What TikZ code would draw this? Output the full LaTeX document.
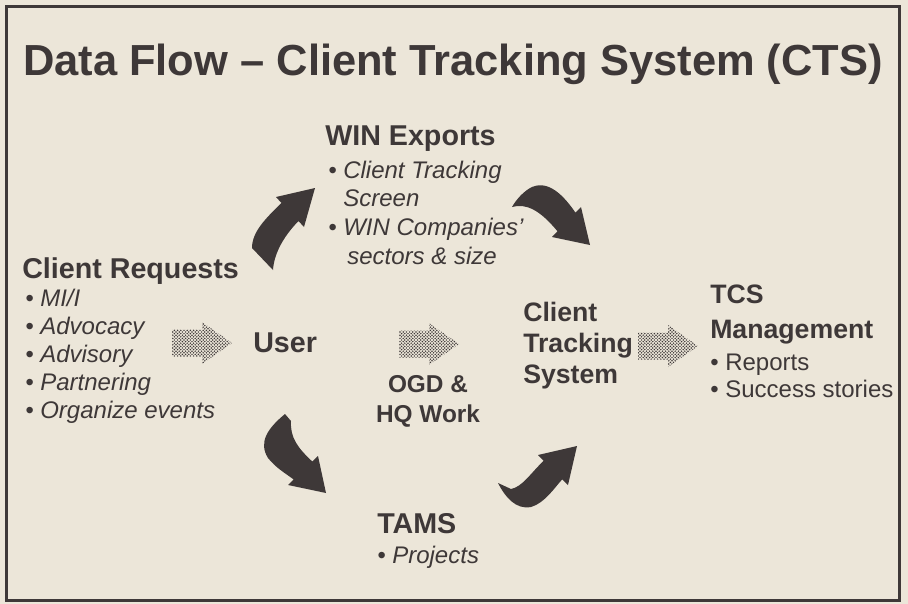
\documentclass[tikz,border=0pt]{standalone}
\usepackage{fontspec}
\setmainfont{Liberation Sans}
\usetikzlibrary{patterns}

\definecolor{paper}{RGB}{236,230,217}
\definecolor{ink}{RGB}{62,56,56}

\pgfdeclarepatternformonly{halftone}{\pgfqpoint{-1pt}{-1pt}}{\pgfqpoint{3.4pt}{3.4pt}}{\pgfqpoint{2.4pt}{2.4pt}}{%
  \pgfpathcircle{\pgfqpoint{0pt}{0pt}}{.62pt}%
  \pgfpathcircle{\pgfqpoint{1.2pt}{1.2pt}}{.62pt}%
  \pgfusepath{fill}}

\newcommand{\titlesize}{\fontsize{32.6}{36}\selectfont\bfseries}
\newcommand{\headsize}{\fontsize{21.5}{23}\selectfont\bfseries}
\newcommand{\boxsize}{\fontsize{20}{23}\selectfont\bfseries}
\newcommand{\ogdsize}{\fontsize{18.3}{21.8}\selectfont\bfseries}
\newcommand{\itemsize}{\fontsize{18}{21}\selectfont\itshape}
\newcommand{\plainsize}{\fontsize{18}{20.2}\selectfont}

\begin{document}
\begin{tikzpicture}[x=0.75pt,y=-0.75pt]
\tikzstyle{head}=[anchor=base west,inner sep=0pt,text=ink,font=\headsize,align=left]
\tikzstyle{items}=[anchor=base west,inner sep=0pt,text=ink,font=\itemsize,align=left]
\tikzstyle{bigarrow}=[fill=ink,draw=none]
\tikzset{dotarrow/.pic={\path[pattern=halftone,pattern color=ink]
  (-30,-13.5) -- (0,-13.5) -- (0,-21) -- (30,0) -- (0,21) -- (0,13.5) -- (-30,13.5) -- cycle;}}
\fill[paper] (0,0) rectangle (908,604);
\useasboundingbox (0,0) rectangle (908,604);
\draw[ink,line width=2.25pt] (6,6) rectangle (899,600);

\node[anchor=base,inner sep=0pt,text=ink,font=\titlesize] (title) at (453,75) {Data Flow – Client Tracking System (CTS)};

\node[head] (req) at (22,278) {Client Requests};
\node[items] (reqlist) at (25,418) {• MI/I\\• Advocacy\\• Advisory\\• Partnering\\• Organize events};
\node[head] (win) at (325,145) {WIN Exports};
\node[items,font=\fontsize{18}{21.4}\selectfont\itshape] (winlist) at (328,264) {• Client Tracking\\\phantom{• }Screen\\• WIN Companies’\\\phantom{• }\,sectors \& size};
\node[head] (user) at (253,352) {User};
\node[head,font=\ogdsize,align=center,anchor=base] (ogd) at (428,422) {OGD \&\\HQ Work};
\node[head,font=\boxsize] (cts) at (523,383) {Client\\Tracking\\System};
\node[head,font=\boxsize] (tcs) at (710,338) {TCS\\[3pt]Management};
\node[anchor=base west,inner sep=0pt,text=ink,font=\plainsize,align=left] (tcslist) at (710,397) {• Reports\\• Success stories};
\node[head] (tams) at (377,533) {TAMS};
\node[items] (tamslist) at (377,563) {• Projects};

\pic (a1) at (202,343) {dotarrow};
\pic (a2) at (429,344) {dotarrow};
\pic (a3) at (668,346) {dotarrow};

\fill[bigarrow] (315,188) -- (276,197) -- (281.5,203) .. controls (265,219) and (252,232) .. (252,248) -- (273,270) .. controls (274,255) and (282,238) .. (298.5,221) -- (304,227) -- cycle;
\fill[bigarrow] (590,245) -- (581,207) -- (575.5,212.7) .. controls (560,190) and (545,180) .. (530,188) .. controls (522,193) and (516,200) .. (512,207) .. controls (526,203) and (540,210) .. (557.5,231.3) -- (552,237) -- cycle;
\fill[bigarrow] (326,493) -- (318,456) -- (312.3,461.5) .. controls (298,448) and (290,438) .. (291,421) -- (285,414) .. controls (268,428) and (258,442) .. (268,458) .. controls (276,468) and (285,473) .. (293.7,479.5) -- (288,485) -- cycle;
\fill[bigarrow] (577,446) -- (538,455) -- (543.7,460.7) .. controls (530,474) and (522,487) .. (511,489) -- (498,483) .. controls (505,497) and (516,510) .. (531,507) .. controls (545,503) and (555,487) .. (562.3,479.3) -- (568,485) -- cycle;
\end{tikzpicture}
\end{document}
